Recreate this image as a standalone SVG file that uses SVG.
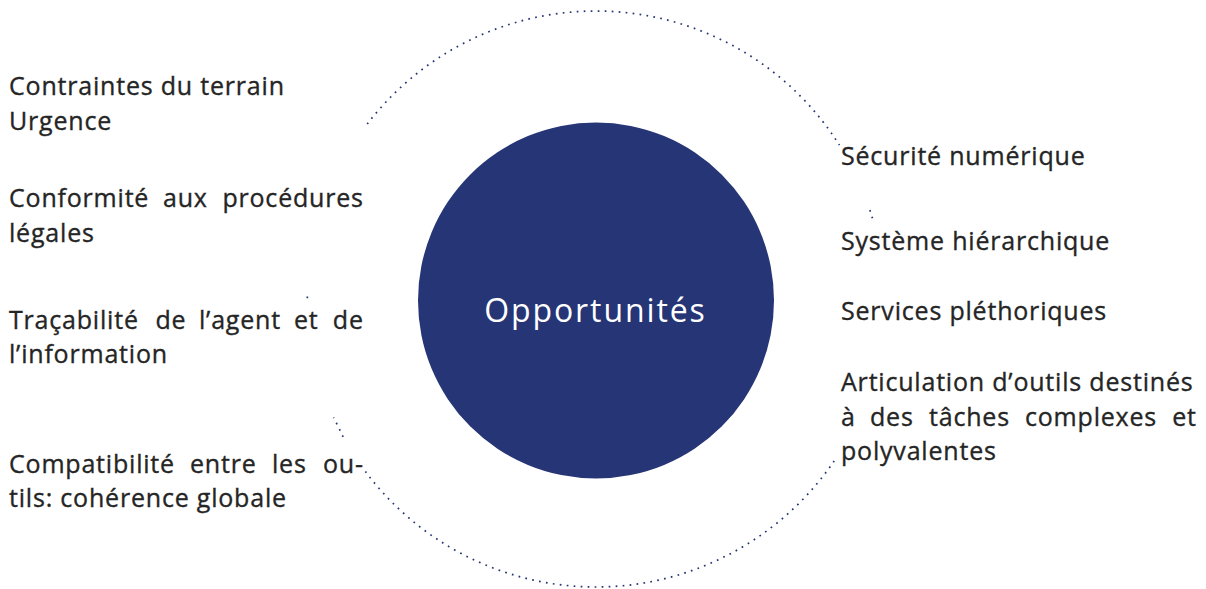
<svg xmlns="http://www.w3.org/2000/svg" width="1206" height="589" viewBox="0 0 1206 589">
  <style>
    .lbl { font-family: "Open Sans", "Noto Sans", "DejaVu Sans", sans-serif; font-size: 25px; fill: #252525; stroke: #252525; stroke-width: 0.35px; letter-spacing: 0.8px; }
    .end { text-anchor: end; }
    .ring { fill: none; stroke: #253575; stroke-width: 1.7; stroke-dasharray: 1.7 5.3; }
    .core { fill: #253575; }
    .core-text { font-family: "Open Sans", "Noto Sans", sans-serif; font-size: 32px; fill: #ffffff; letter-spacing: 1.9px; }
  </style>

  <!-- dotted outer ring, broken where the side labels sit -->
  <g id="connectors">
    <path class="ring" d="M367.2,124.1 A288,288 0 0 1 839.4,145.1"/>
    <path class="ring" d="M869.9,210 A288,288 0 0 1 873.5,222"/>
    <path class="ring" d="M307.4,298.2 A288,288 0 0 1 307.3,296.5"/>
    <path class="ring" d="M343.1,436.9 A288,288 0 0 0 333.5,417.5"/>
    <path class="ring" d="M834.2,460.9 A288,288 0 0 1 364.8,470.7"/>
  </g>

  <!-- central node -->
  <g id="opportunites">
    <circle class="core" cx="596" cy="300.5" r="178"/>
    <text class="core-text" x="595.5" y="322" text-anchor="middle">Opportunités</text>
  </g>

  <!-- left column (justified lines: words placed one by one) -->
  <g id="contraintes">
    <text class="lbl" x="9" y="95">Contraintes du terrain</text>
    <text class="lbl" x="9" y="130">Urgence</text>
  </g>
  <g id="conformite">
    <text class="lbl" y="207"><tspan x="9">Conformité</tspan><tspan x="163">aux</tspan></text>
    <text class="lbl end" x="363.8" y="207">procédures</text>
    <text class="lbl" x="9" y="242">légales</text>
  </g>
  <g id="tracabilite">
    <text class="lbl" y="329"><tspan x="9">Traçabilité</tspan><tspan x="155.5">de</tspan><tspan x="199">l’agent</tspan><tspan x="294">et</tspan></text>
    <text class="lbl end" x="363.8" y="329">de</text>
    <text class="lbl" x="9" y="363">l’information</text>
  </g>
  <g id="compatibilite">
    <text class="lbl" y="473"><tspan x="9">Compatibilité</tspan><tspan x="190">entre</tspan><tspan x="272">les</tspan></text>
    <text class="lbl end" x="363.8" y="473">ou-</text>
    <text class="lbl" x="9" y="507">tils: cohérence globale</text>
  </g>

  <!-- right column -->
  <g id="securite">
    <text class="lbl" x="841" y="165">Sécurité numérique</text>
  </g>
  <g id="systeme">
    <text class="lbl" x="841" y="250">Système hiérarchique</text>
  </g>
  <g id="services">
    <text class="lbl" x="841" y="320">Services pléthoriques</text>
  </g>
  <g id="articulation">
    <text class="lbl" x="841" y="391">Articulation d’outils destinés</text>
    <text class="lbl" y="426"><tspan x="841">à</tspan><tspan x="870">des</tspan><tspan x="929">tâches</tspan><tspan x="1025">complexes</tspan></text>
    <text class="lbl end" x="1196.8" y="426">et</text>
    <text class="lbl" x="841" y="460">polyvalentes</text>
  </g>
</svg>
